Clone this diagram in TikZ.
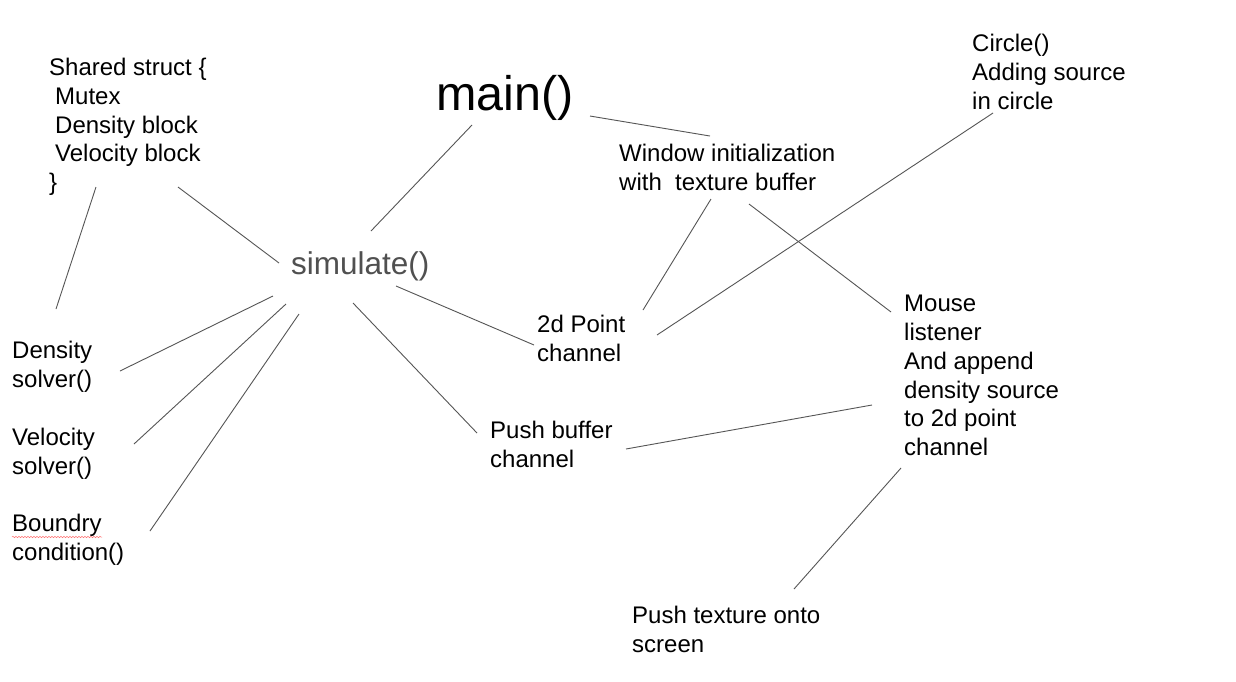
\documentclass[tikz,border=0pt]{standalone}
\usepackage{fontspec}
\setmainfont{Liberation Sans}
\usetikzlibrary{calc,decorations.pathmorphing}

\definecolor{linegray}{HTML}{555555}
\definecolor{simgray}{HTML}{505050}

\tikzset{
  txt/.style={anchor=north west, inner sep=0pt, align=left,
    font=\fontsize{24}{28.8}\selectfont},
  link/.style={draw=linegray, line width=0.9pt}
}

\begin{document}
\begin{tikzpicture}[x=1pt, y=-1pt]
  \useasboundingbox[fill=white] (0,0) rectangle (1236,681);

  % --- Nodi centrali ---
  \node[txt, font=\fontsize{48.5}{52}\selectfont] (main) at (436,75) {main()};
  \node[txt, font=\fontsize{31.5}{36}\selectfont, text=simgray] (sim) at (291,251) {simulate()};

  % --- Colonna sinistra ---
  \node[txt] (struct) at (49,58) {Shared struct \{\\\hspace*{6pt}Mutex\\\hspace*{6pt}Density block\\\hspace*{6pt}Velocity block\\\}};
  \node[txt] (dens) at (12,341) {Density\\solver()};
  \node[txt] (vel) at (12,428) {Velocity\\solver()};
  \node[txt] (bnd) at (12,514) {Boundry\\condition()};

  % --- Colonna destra ---
  \node[txt] (win) at (619,144) {Window initialization\\with\ \ texture buffer};
  \node[txt] (circ) at (972,34) {Circle()\\Adding source\\in circle};
  \node[txt] (pt) at (537,315) {2d Point\\channel};
  \node[txt] (mouse) at (904,295) {Mouse\\listener\\And append\\density source\\to 2d point\\channel};
  \node[txt] (pbuf) at (490,421) {Push buffer\\channel};
  \node[txt] (ptex) at (632,606) {Push texture onto\\screen};

  % sottolineatura ortografica
  \draw[red!55, line width=0.5pt, decorate, decoration={snake, amplitude=0.7pt, segment length=3pt}]
    ($(bnd.north west)+(0,23)$) -- ($(bnd.north west)+(90,23)$);

  % --- Collegamenti da main() ---
  \draw[link] ($(main.north west)+(36,50)$) -- ($(sim.north west)+(80,-20)$);
  \draw[link] ($(main.north west)+(154,41)$) -- ($(win.north west)+(91,-8)$);

  % --- Collegamenti da simulate() ---
  \draw[link] ($(struct.north west)+(129,129)$) -- ($(sim.north west)+(-12,12)$);
  \draw[link] ($(struct.north west)+(47,129)$) -- ($(dens.north west)+(44,-32)$);
  \draw[link] ($(sim.north west)+(-18,45)$) -- ($(dens.north west)+(108,30)$);
  \draw[link] ($(sim.north west)+(-5,53)$) -- ($(vel.north west)+(122,16)$);
  \draw[link] ($(sim.north west)+(8,63)$) -- ($(bnd.north west)+(138,17)$);
  \draw[link] ($(sim.north west)+(105,35)$) -- ($(pt.north west)+(-3,30)$);
  \draw[link] ($(sim.north west)+(62,52)$) -- ($(pbuf.north west)+(-13,12)$);

  % --- Collegamenti lato finestra ---
  \draw[link] ($(win.north west)+(92,55)$) -- ($(pt.north west)+(106,-5)$);
  \draw[link] ($(win.north west)+(130,60)$) -- ($(mouse.north west)+(-13,17)$);
  \draw[link] ($(circ.north west)+(21,79)$) -- ($(pt.north west)+(120,20)$);
  \draw[link] ($(mouse.north west)+(-32,110)$) -- ($(pbuf.north west)+(136,28)$);
  \draw[link] ($(mouse.north west)+(-3,173)$) -- ($(ptex.north west)+(162,-17)$);
\end{tikzpicture}
\end{document}
